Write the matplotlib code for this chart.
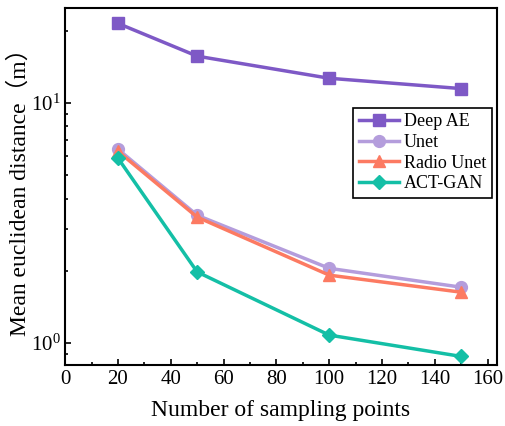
import numpy as np
import matplotlib
matplotlib.use("Agg")
import matplotlib.pyplot as plt
from matplotlib.ticker import MultipleLocator

plt.rcParams['font.family'] = ['Liberation Serif', 'Noto Sans CJK SC']
plt.rcParams['mathtext.fontset'] = 'stix'

# data
points = [20, 50, 100, 150]
deep_ae = [21.5, 15.7, 12.7, 11.5]
unet = [6.43, 3.41, 2.05, 1.71]
radio_unet = [6.3, 3.35, 1.92, 1.63]
act_gan = [5.9, 1.98, 1.08, 0.88]

names = ['Deep AE', 'Unet', 'Radio Unet', 'ACT-GAN']
colors = ['#7e59c6', '#b49ddc', '#fc7a62', '#14bfa6']
markers = ['s', 'o', '^', 'D']

fig = plt.figure(figsize=(5.05, 4.26), dpi=100)
ax = fig.add_axes([0.129, 0.143, 0.855, 0.838])

for vals, name, c, m in zip([deep_ae, unet, radio_unet, act_gan], names, colors, markers):
    ms = 8.5 if m != 'D' else 7.5
    ax.plot(points, vals, color=c, marker=m, markersize=ms, linewidth=2.5, label=name)

ax.set_yscale('log')
ax.set_xlim(0, 163.5)
ax.set_ylim(0.81, 24.9)
ax.xaxis.set_major_locator(MultipleLocator(20))
ax.xaxis.set_minor_locator(MultipleLocator(10))
ax.tick_params(which='both', direction='in', labelsize=15, width=1.2)
ax.tick_params(which='major', length=4)
ax.tick_params(which='minor', length=2.5)
ax.tick_params(axis='y', which='minor', labelleft=False)
for s in ax.spines.values():
    s.set_linewidth(1.5)

ax.set_xlabel('Number of sampling points', fontsize=17, labelpad=8)
ax.set_ylabel('Mean euclidean distance（m）', fontsize=17, labelpad=0)

leg = ax.legend(loc='upper right', bbox_to_anchor=(0.988, 0.72), borderaxespad=0,
                fontsize=13, fancybox=False, edgecolor='black', framealpha=1,
                handlelength=2.2, borderpad=0.3, labelspacing=0.2, handletextpad=0.3)
leg.get_frame().set_linewidth(1.2)

fig.savefig('out.png', dpi=100)
